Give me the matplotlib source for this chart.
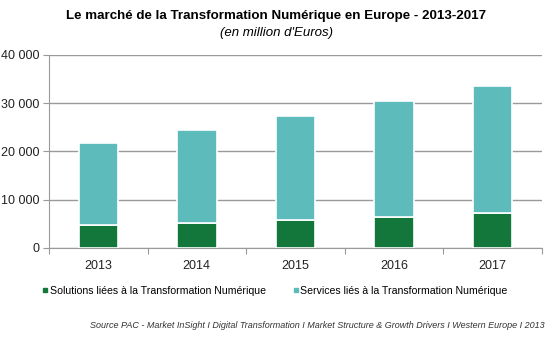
import matplotlib
matplotlib.use("Agg")
from matplotlib import pyplot as plt
from matplotlib.lines import Line2D
import numpy as np

plt.rcParams["font.family"] = ["Liberation Sans", "DejaVu Sans"]

annees = ["2013", "2014", "2015", "2016", "2017"]
solutions = [4800, 5200, 5900, 6500, 7200]
services = [17000, 19200, 21400, 24000, 26400]

vert = "#13763a"
turquoise = "#5dbbbc"

fig = plt.figure(figsize=(5.5, 3.43), dpi=100)
ax = fig.add_axes([0.089, 0.277, 0.896, 0.563])

x = np.arange(len(annees))
ax.bar(x, solutions, width=0.4, color=vert, edgecolor="white", linewidth=1.2, zorder=3)
ax.bar(x, services, width=0.4, bottom=solutions, color=turquoise, edgecolor="white", linewidth=1.2, zorder=3)

ax.set_xlim(-0.5, len(annees) - 0.5)
ax.set_ylim(0, 40000)
ax.set_yticks(np.arange(0, 40001, 10000))
ax.set_yticklabels(["0", "10 000", "20 000", "30 000", "40 000"])
ax.set_xticks(x)
ax.set_xticklabels(annees)
ax.set_xticks(np.arange(-0.5, len(annees), 1), minor=True)
ax.tick_params(axis="x", which="major", length=0, pad=9, labelsize=9, colors="#222222")
ax.tick_params(axis="x", which="minor", length=4, color="#999999", width=0.8)
ax.tick_params(axis="y", length=4, color="#999999", width=0.8, labelsize=9, colors="#222222", pad=3)

ax.grid(True, axis="y", color="#9a9a9a", linewidth=1.0, zorder=0)
for s in ["top", "right"]:
    ax.spines[s].set_visible(False)
ax.spines["left"].set_color("#9a9a9a")
ax.spines["bottom"].set_color("#9a9a9a")

fig.text(0.502, 0.952, "Le marché de la Transformation Numérique en Europe - 2013-2017",
         ha="center", va="center", fontsize=9.6, fontweight="bold")
fig.text(0.502, 0.905, "(en million d'Euros)", ha="center", va="center",
         fontsize=9.5, style="italic")

poignees = [Line2D([], [], marker="s", linestyle="", color=vert, markersize=3),
            Line2D([], [], marker="s", linestyle="", color=turquoise, markersize=3)]
fig.legend(poignees, ["Solutions liées à la Transformation Numérique",
                      "Services liés à la Transformation Numérique"],
           loc="center", bbox_to_anchor=(0.5, 0.153), ncol=2, frameon=False,
           fontsize=7.6, handlelength=0.5, handletextpad=0.2, columnspacing=2.6)

fig.text(0.99, 0.05, "Source PAC - Market InSight I Digital Transformation I Market Structure & Growth Drivers I Western Europe I 2013",
         ha="right", va="center", fontsize=6.5, style="italic", color="#333333")

fig.savefig("out.png", dpi=100)
